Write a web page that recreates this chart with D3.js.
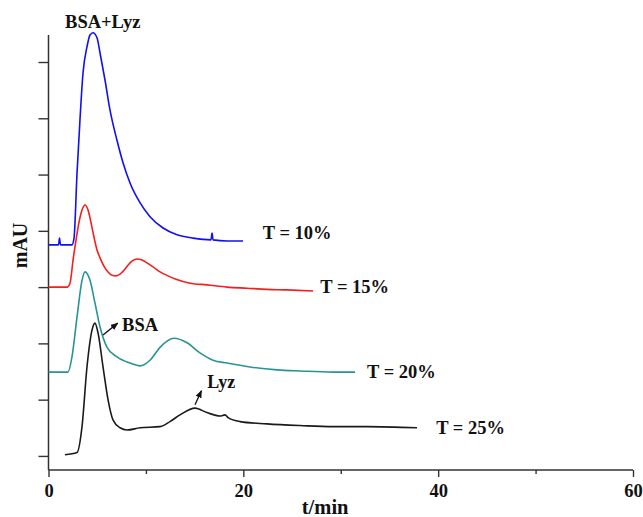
<!DOCTYPE html>
<html>
<head>
<meta charset="utf-8">
<script src="https://cdn.jsdelivr.net/npm/d3@7/dist/d3.min.js"></script>
<style>
  html, body { margin: 0; padding: 0; background: #fff; }
  svg text { font-family: "Liberation Serif", "Times New Roman", serif; font-weight: bold; fill: #111; }
</style>
</head>
<body>
<svg id="chart" width="643" height="517"></svg>
<script>
// ---- data (time in min, signal relative to each trace's own baseline, arbitrary mAU units) ----
const seriesNames = ["T = 10%", "T = 15%", "T = 20%", "T = 25%"];
const seriesOffsets = [3.75, 3.00, 1.49, 0.02];

const t10 = [[0,0],[1.03,0],[1.13,0.12],[1.23,0],[2.41,0],[2.62,0.12],[2.93,1.28],[3.23,2.22],[3.54,3.05],[3.95,3.52],[4.26,3.73],[4.57,3.77],[4.98,3.68],[5.29,3.41],[5.80,2.93],[6.31,2.40],[7.03,1.86],[7.65,1.46],[8.37,1.10],[9.39,0.75],[10.42,0.50],[11.76,0.30],[13.19,0.18],[14.84,0.12],[16.68,0.09],[16.79,0.21],[16.89,0.09],[18.33,0.07],[19.97,0.07]];

const t15 = [[0,0],[1.90,0],[2.21,0.07],[2.52,0.48],[2.82,0.83],[3.13,1.15],[3.44,1.37],[3.75,1.46],[4.06,1.37],[4.36,1.15],[4.67,0.89],[4.98,0.66],[5.29,0.52],[5.70,0.37],[6.11,0.27],[6.52,0.21],[6.93,0.20],[7.34,0.23],[7.75,0.30],[8.16,0.39],[8.57,0.46],[9.09,0.50],[9.60,0.48],[10.11,0.43],[10.73,0.36],[11.45,0.27],[12.27,0.20],[13.09,0.14],[14.53,0.07],[16.27,0.04],[18.33,0.00],[20.38,-0.02],[22.43,-0.04],[24.49,-0.05],[27.16,-0.07]];

const t20 = [[0,0],[2.00,0],[2.41,0.27],[2.93,0.98],[3.44,1.63],[3.75,1.78],[4.26,1.63],[4.77,1.23],[5.29,0.80],[6.01,0.44],[7.03,0.27],[8.37,0.16],[9.39,0.11],[10.42,0.21],[11.45,0.44],[12.89,0.60],[14.22,0.52],[15.55,0.34],[16.89,0.21],[18.33,0.16],[20.69,0.09],[23.46,0.04],[25.82,0.02],[29.21,0],[31.47,0]];

const t25 = [[1.69,0],[2.93,0.04],[3.44,0.50],[3.95,1.56],[4.47,2.22],[4.77,2.34],[5.08,2.17],[5.60,1.56],[6.11,0.98],[6.62,0.62],[7.34,0.48],[8.06,0.44],[9.39,0.48],[11.45,0.50],[12.47,0.59],[13.50,0.71],[15.04,0.83],[16.27,0.75],[17.61,0.69],[18.12,0.71],[18.43,0.66],[19.66,0.59],[22.43,0.55],[25.82,0.52],[29.21,0.50],[32.70,0.50],[37.83,0.48]];

const xTicks = [0, 20, 40, 60];
const xMinorTicks = [10, 30, 50];
const yTicks = [0, 1, 2, 3, 4, 5, 6, 7];

// ---- layout ----
const colors = ["#1010f5", "#f51d1d", "#2a9393", "#1a1a1a"];
const svg = d3.select("#chart");
const x = d3.scaleLinear().domain([0, 60]).range([48.5, 633]);
const y = d3.scaleLinear().domain([-0.25, 7.48]).range([470, 35]);

// axes
const xAxis = d3.axisBottom(x).tickValues(xTicks).tickSize(7).tickPadding(4).tickFormat(d3.format("d"));
const gx = svg.append("g").attr("transform", `translate(0,${y(-0.25)})`).call(xAxis);
gx.selectAll("text").attr("font-size", 18.5).attr("dy", "0.85em");
const gxm = svg.append("g").attr("transform", `translate(0,${y(-0.25)})`)
  .call(d3.axisBottom(x).tickValues(xMinorTicks).tickSize(4).tickFormat(""));
gxm.select(".domain").remove();

const yAxis = d3.axisLeft(y).tickValues(yTicks).tickSize(10).tickFormat("");
const gy = svg.append("g").attr("transform", `translate(${x(0)},0)`).call(yAxis);

svg.selectAll(".domain").attr("stroke", "#333").attr("stroke-width", 1.5);
svg.selectAll(".tick line").attr("stroke", "#333").attr("stroke-width", 1.4);
gx.selectAll(".domain").attr("d", `M${x(0)},0H${x(60)}`);
gy.selectAll(".domain").attr("d", `M0,${y(7.48)}V${y(-0.25)}`);

// traces
const traces = [t10, t15, t20, t25];
const line = d3.line().curve(d3.curveMonotoneX);
traces.forEach((data, i) => {
  svg.append("path")
    .attr("d", line(data.map(d => [x(d[0]), y(d[1] + seriesOffsets[i])])))
    .attr("fill", "none")
    .attr("stroke", colors[i])
    .attr("stroke-width", 1.6)
    .attr("stroke-linejoin", "round");
});

// series labels
const labelPos = [[22.0, 3.85], [27.9, 2.90], [32.7, 1.39], [39.8, 0.39]];
seriesNames.forEach((name, i) => {
  svg.append("text").attr("x", x(labelPos[i][0])).attr("y", y(labelPos[i][1]))
    .attr("font-size", 18.5).text(name);
});

// annotations
svg.append("text").attr("x", x(1.7)).attr("y", y(7.6)).attr("font-size", 18.5).text("BSA+Lyz");
svg.append("text").attr("x", x(7.55)).attr("y", y(2.22)).attr("font-size", 18.5).text("BSA");
svg.append("text").attr("x", x(16.3)).attr("y", y(1.21)).attr("font-size", 18).text("Lyz");

const defs = svg.append("defs");
defs.append("marker").attr("id", "ah").attr("viewBox", "0 0 10 10").attr("refX", 9).attr("refY", 5)
  .attr("markerWidth", 6).attr("markerHeight", 6).attr("orient", "auto")
  .append("path").attr("d", "M0,1 L10,5 L0,9 Z").attr("fill", "#111");
const arrows = [[[5.60, 2.15], [7.10, 2.36]], [[15.04, 0.91], [15.70, 1.16]]];
arrows.forEach(a => {
  svg.append("line")
    .attr("x1", x(a[0][0])).attr("y1", y(a[0][1]))
    .attr("x2", x(a[1][0])).attr("y2", y(a[1][1]))
    .attr("stroke", "#111").attr("stroke-width", 1.3).attr("marker-end", "url(#ah)");
});

// axis titles
svg.append("text").attr("x", x(28.4)).attr("y", 514).attr("text-anchor", "middle")
  .attr("font-size", 20.5).text("t/min");
svg.append("text").attr("transform", `translate(27,${y(3.74)}) rotate(-90)`).attr("text-anchor", "middle")
  .attr("font-size", 20).text("mAU");
</script>
</body>
</html>
